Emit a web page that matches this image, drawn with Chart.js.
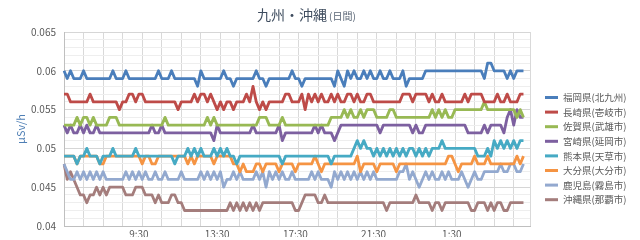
<!DOCTYPE html>
<html>
<head>
<meta charset="utf-8">
<script src="https://cdn.jsdelivr.net/npm/chart.js@4.4.1/dist/chart.umd.min.js"></script>
<style>
  html, body { margin: 0; padding: 0; background: #fff; }
</style>
</head>
<body>
<canvas id="chart" width="640" height="240"></canvas>
<script>
const FONT = "'Noto Sans CJK JP', 'Noto Sans', sans-serif";

const chartTitle = '九州・沖縄';
const chartSubtitle = '(日間)';
const yTitle = 'μSv/h';
const tickLabels = ['9:30', '13:30', '17:30', '21:30', '1:30'];
const stations = ['福岡県(北九州)', '長崎県(壱岐市)', '佐賀県(武雄市)', '宮崎県(延岡市)',
                  '熊本県(天草市)', '大分県(大分市)', '鹿児島(霧島市)', '沖縄県(那覇市)'];

// 10 minute readings, starting 5:40
const fukuoka = [0.060,0.059,0.060,0.059,0.059,0.059,0.060,0.059,0.059,0.059,
  0.059,0.059,0.059,0.059,0.059,0.060,0.059,0.059,0.059,0.060,
  0.059,0.059,0.059,0.059,0.059,0.059,0.059,0.059,0.059,0.060,
  0.059,0.059,0.059,0.060,0.059,0.059,0.059,0.059,0.059,0.059,
  0.059,0.058,0.060,0.059,0.059,0.059,0.059,0.059,0.059,0.060,
  0.059,0.059,0.058,0.059,0.059,0.059,0.059,0.059,0.059,0.060,
  0.059,0.059,0.058,0.059,0.059,0.059,0.059,0.059,0.059,0.059,
  0.060,0.059,0.059,0.058,0.059,0.059,0.059,0.059,0.059,0.059,
  0.059,0.059,0.059,0.058,0.060,0.059,0.058,0.060,0.059,0.060,
  0.059,0.059,0.060,0.059,0.060,0.059,0.059,0.060,0.059,0.059,
  0.060,0.059,0.059,0.059,0.060,0.058,0.059,0.059,0.059,0.059,
  0.059,0.060,0.060,0.060,0.060,0.060,0.060,0.060,0.060,0.060,
  0.060,0.060,0.060,0.060,0.060,0.060,0.060,0.060,0.060,0.059,
  0.061,0.061,0.060,0.060,0.060,0.060,0.059,0.060,0.059,0.060,
  0.060,0.060];
const nagasaki = [0.057,0.057,0.056,0.056,0.056,0.056,0.056,0.056,0.057,0.056,
  0.056,0.056,0.056,0.056,0.056,0.056,0.056,0.055,0.056,0.056,
  0.057,0.057,0.056,0.057,0.057,0.056,0.056,0.056,0.056,0.056,
  0.056,0.056,0.056,0.056,0.056,0.055,0.056,0.056,0.056,0.056,
  0.057,0.056,0.057,0.057,0.056,0.057,0.056,0.055,0.056,0.055,
  0.056,0.056,0.055,0.056,0.056,0.056,0.057,0.056,0.058,0.056,
  0.055,0.056,0.055,0.056,0.056,0.056,0.056,0.056,0.057,0.057,
  0.056,0.056,0.056,0.057,0.055,0.057,0.056,0.057,0.056,0.057,
  0.056,0.056,0.057,0.056,0.057,0.056,0.056,0.057,0.057,0.056,
  0.057,0.056,0.056,0.057,0.057,0.056,0.056,0.056,0.056,0.056,
  0.056,0.056,0.056,0.056,0.057,0.057,0.057,0.056,0.057,0.057,
  0.057,0.057,0.056,0.057,0.056,0.056,0.057,0.056,0.056,0.056,
  0.056,0.056,0.056,0.057,0.056,0.057,0.057,0.057,0.057,0.056,
  0.056,0.056,0.056,0.057,0.056,0.056,0.057,0.056,0.056,0.056,
  0.057,0.057];
const saga = [0.053,0.053,0.053,0.053,0.054,0.053,0.054,0.054,0.053,0.054,
  0.053,0.053,0.053,0.053,0.054,0.054,0.054,0.053,0.053,0.053,
  0.053,0.053,0.053,0.053,0.053,0.053,0.053,0.053,0.053,0.053,
  0.053,0.054,0.053,0.053,0.053,0.053,0.053,0.053,0.053,0.053,
  0.053,0.053,0.053,0.053,0.054,0.053,0.054,0.053,0.053,0.053,
  0.053,0.053,0.053,0.053,0.053,0.053,0.053,0.053,0.053,0.053,
  0.054,0.054,0.054,0.053,0.053,0.053,0.053,0.054,0.053,0.053,
  0.053,0.053,0.053,0.053,0.053,0.053,0.053,0.053,0.053,0.053,
  0.053,0.053,0.054,0.054,0.054,0.054,0.055,0.054,0.055,0.054,
  0.054,0.055,0.054,0.055,0.055,0.055,0.054,0.054,0.054,0.054,
  0.055,0.055,0.054,0.054,0.054,0.054,0.054,0.054,0.054,0.054,
  0.054,0.054,0.054,0.055,0.054,0.055,0.054,0.055,0.054,0.054,
  0.055,0.055,0.055,0.055,0.055,0.055,0.055,0.055,0.055,0.056,
  0.055,0.055,0.055,0.055,0.055,0.055,0.055,0.055,0.055,0.054,
  0.055,0.054];
const miyazaki = [0.053,0.052,0.053,0.052,0.052,0.053,0.052,0.053,0.052,0.052,
  0.053,0.052,0.052,0.052,0.052,0.052,0.052,0.052,0.052,0.052,
  0.052,0.052,0.052,0.052,0.052,0.052,0.052,0.053,0.052,0.052,
  0.053,0.052,0.052,0.052,0.052,0.052,0.052,0.052,0.052,0.052,
  0.052,0.052,0.052,0.052,0.052,0.052,0.051,0.053,0.052,0.052,
  0.052,0.052,0.052,0.052,0.052,0.052,0.052,0.052,0.053,0.052,
  0.052,0.052,0.052,0.052,0.052,0.052,0.053,0.051,0.052,0.052,
  0.052,0.052,0.052,0.052,0.052,0.052,0.052,0.053,0.052,0.053,
  0.052,0.052,0.052,0.051,0.052,0.053,0.053,0.053,0.053,0.053,
  0.053,0.053,0.053,0.053,0.053,0.053,0.053,0.052,0.053,0.053,
  0.053,0.053,0.053,0.053,0.053,0.053,0.053,0.052,0.053,0.052,
  0.052,0.053,0.053,0.053,0.053,0.053,0.053,0.053,0.053,0.053,
  0.053,0.053,0.053,0.053,0.052,0.052,0.052,0.052,0.052,0.053,
  0.052,0.053,0.053,0.053,0.053,0.052,0.054,0.055,0.053,0.055,
  0.054,0.054];
const kumamoto = [0.049,0.049,0.049,0.049,0.048,0.049,0.049,0.050,0.049,0.049,
  0.049,0.048,0.049,0.049,0.049,0.050,0.049,0.049,0.049,0.049,
  0.049,0.049,0.050,0.049,0.049,0.049,0.049,0.049,0.049,0.049,
  0.049,0.049,0.049,0.049,0.048,0.049,0.049,0.049,0.050,0.049,
  0.050,0.049,0.050,0.049,0.049,0.049,0.050,0.049,0.050,0.049,
  0.050,0.049,0.049,0.048,0.049,0.049,0.049,0.049,0.049,0.049,
  0.049,0.049,0.049,0.049,0.049,0.049,0.049,0.048,0.049,0.049,
  0.049,0.049,0.049,0.049,0.049,0.049,0.049,0.049,0.049,0.049,
  0.049,0.049,0.048,0.049,0.049,0.049,0.049,0.049,0.049,0.050,
  0.051,0.050,0.051,0.050,0.050,0.049,0.050,0.049,0.050,0.049,
  0.050,0.049,0.050,0.049,0.050,0.049,0.050,0.050,0.049,0.050,
  0.049,0.050,0.049,0.050,0.050,0.050,0.051,0.050,0.050,0.050,
  0.050,0.050,0.050,0.050,0.050,0.050,0.050,0.049,0.049,0.049,
  0.050,0.049,0.051,0.050,0.051,0.050,0.051,0.050,0.051,0.050,
  0.051,0.051];
const oita = [0.049,0.049,0.049,0.049,0.048,0.049,0.049,0.049,0.049,0.049,
  0.049,0.048,0.048,0.049,0.049,0.049,0.049,0.049,0.049,0.049,
  0.049,0.049,0.049,0.049,0.048,0.049,0.049,0.048,0.048,0.049,
  0.049,0.049,0.049,0.049,0.049,0.049,0.049,0.049,0.048,0.049,
  0.048,0.049,0.049,0.049,0.049,0.049,0.048,0.049,0.049,0.049,
  0.049,0.049,0.048,0.048,0.047,0.048,0.047,0.047,0.047,0.048,
  0.048,0.047,0.048,0.048,0.048,0.048,0.047,0.048,0.048,0.048,
  0.048,0.047,0.048,0.048,0.048,0.048,0.048,0.049,0.048,0.047,
  0.048,0.048,0.048,0.048,0.048,0.048,0.048,0.048,0.048,0.048,
  0.049,0.047,0.048,0.048,0.048,0.048,0.047,0.048,0.048,0.048,
  0.048,0.048,0.047,0.048,0.048,0.048,0.048,0.048,0.048,0.048,
  0.048,0.048,0.048,0.048,0.048,0.048,0.048,0.048,0.049,0.049,
  0.048,0.047,0.048,0.048,0.048,0.048,0.049,0.048,0.048,0.048,
  0.049,0.048,0.048,0.048,0.048,0.048,0.048,0.048,0.048,0.049,
  0.048,0.049];
const kagoshima = [0.048,0.047,0.046,0.046,0.047,0.046,0.047,0.046,0.047,0.046,
  0.047,0.046,0.047,0.046,0.046,0.046,0.046,0.046,0.046,0.047,
  0.046,0.047,0.046,0.047,0.046,0.047,0.046,0.046,0.047,0.046,
  0.046,0.047,0.046,0.046,0.046,0.046,0.047,0.046,0.046,0.046,
  0.046,0.046,0.047,0.046,0.047,0.046,0.047,0.046,0.047,0.045,
  0.046,0.046,0.047,0.046,0.047,0.046,0.046,0.046,0.046,0.047,
  0.046,0.047,0.045,0.047,0.046,0.047,0.046,0.047,0.046,0.046,
  0.047,0.046,0.046,0.046,0.046,0.046,0.047,0.046,0.047,0.046,
  0.046,0.046,0.045,0.047,0.046,0.047,0.046,0.047,0.046,0.047,
  0.046,0.047,0.046,0.047,0.046,0.047,0.046,0.046,0.046,0.046,
  0.046,0.046,0.046,0.047,0.047,0.048,0.046,0.047,0.046,0.045,
  0.046,0.047,0.046,0.047,0.046,0.046,0.047,0.046,0.047,0.046,
  0.046,0.046,0.047,0.046,0.045,0.046,0.047,0.046,0.046,0.047,
  0.047,0.047,0.047,0.047,0.048,0.047,0.047,0.048,0.048,0.047,
  0.047,0.048];
const okinawa = [0.048,0.046,0.047,0.046,0.045,0.044,0.044,0.043,0.044,0.044,
  0.045,0.044,0.045,0.044,0.045,0.045,0.045,0.045,0.045,0.044,
  0.044,0.044,0.045,0.045,0.045,0.044,0.044,0.044,0.043,0.044,
  0.043,0.043,0.043,0.044,0.044,0.043,0.043,0.042,0.042,0.042,
  0.042,0.042,0.042,0.042,0.042,0.042,0.042,0.042,0.042,0.042,
  0.042,0.043,0.042,0.043,0.042,0.043,0.042,0.043,0.042,0.043,
  0.042,0.043,0.043,0.043,0.043,0.043,0.043,0.043,0.043,0.043,
  0.043,0.042,0.042,0.043,0.044,0.044,0.044,0.044,0.043,0.043,
  0.044,0.043,0.043,0.043,0.043,0.043,0.043,0.043,0.043,0.043,
  0.043,0.043,0.043,0.043,0.043,0.043,0.043,0.043,0.043,0.042,
  0.043,0.043,0.043,0.043,0.043,0.043,0.043,0.043,0.044,0.043,
  0.043,0.043,0.043,0.042,0.043,0.043,0.042,0.043,0.043,0.043,
  0.043,0.043,0.043,0.043,0.043,0.042,0.042,0.043,0.043,0.043,
  0.042,0.043,0.042,0.043,0.043,0.042,0.042,0.043,0.043,0.043,
  0.043,0.043];

const series = [fukuoka, nagasaki, saga, miyazaki, kumamoto, oita, kagoshima, okinawa];
const colors = ['#4a7ebb', '#be4b48', '#98b954', '#7d60a0', '#46aac4', '#f59443', '#93a9cf', '#a47d7c'];

// one category per 10 minutes over the day, first one at 5:40
const times = [];
for (let i = 0; i < 144; i++) {
  const m = (5 * 60 + 40 + i * 10) % 1440;
  times.push(Math.floor(m / 60) + ':' + String(m % 60).padStart(2, '0'));
}

const isMajor = v => Math.round(v * 1000) % 5 === 0;

// title with a smaller "(日間)" after it
const titlePlugin = {
  id: 'titleText',
  afterDraw(chart) {
    const ctx = chart.ctx;
    ctx.save();
    ctx.fillStyle = '#3e4c5e';
    ctx.font = '14px ' + FONT;
    ctx.fillText(chartTitle, 257, 20);
    const w = ctx.measureText(chartTitle).width;
    ctx.fillStyle = '#5a6676';
    ctx.font = '10px ' + FONT;
    ctx.fillText(chartSubtitle, 257 + w + 2, 20);
    ctx.restore();
  }
};

// legend on the right, Excel style short bars
const sideLegend = {
  id: 'sideLegend',
  afterDraw(chart) {
    const ctx = chart.ctx;
    ctx.save();
    ctx.font = '9.5px ' + FONT;
    ctx.textBaseline = 'middle';
    chart.data.datasets.forEach((ds, i) => {
      const y = 97.5 + i * 14.6;
      ctx.fillStyle = ds.borderColor;
      ctx.fillRect(545, y - 1.5, 13, 3);
      ctx.fillStyle = '#595959';
      ctx.fillText(ds.label, 563, y);
    });
    ctx.restore();
  }
};

new Chart(document.getElementById('chart'), {
  type: 'line',
  data: {
    labels: times,
    datasets: series.map((vals, i) => ({
      label: stations[i],
      data: vals,
      borderColor: colors[i],
      backgroundColor: colors[i],
      borderWidth: 2.8,
      pointRadius: 0,
      tension: 0,
      borderJoinStyle: 'round'
    }))
  },
  options: {
    responsive: false,
    animation: false,
    devicePixelRatio: 1,
    layout: { padding: { top: 32, right: 110, bottom: 0, left: 0 } },
    plugins: { legend: { display: false }, title: { display: false }, tooltip: { enabled: false } },
    scales: {
      x: {
        afterFit: s => { s.height = 11; },
        grid: {
          drawTicks: false,
          color: c => (c.index % 6 === 0 || c.index === times.length - 1) ? '#d9d9d9' : 'rgba(0,0,0,0)'
        },
        border: { color: '#bfbfbf' },
        ticks: {
          autoSkip: false,
          maxRotation: 0,
          padding: 2,
          color: '#595959',
          font: { family: FONT, size: 10 },
          callback: (v, i) => tickLabels.includes(times[i]) ? times[i] : ''
        }
      },
      y: {
        min: 0.04,
        max: 0.065,
        afterFit: s => { s.width = 64; },
        grid: {
          drawTicks: false,
          color: c => (c.tick && isMajor(c.tick.value)) ? '#d6d6d6' : '#eeeeee'
        },
        border: { color: '#bfbfbf' },
        title: {
          display: true,
          text: yTitle,
          color: '#4f7fb5',
          font: { family: FONT, size: 11 },
          padding: { top: 14, bottom: 0 }
        },
        ticks: {
          stepSize: 0.001,
          autoSkip: false,
          maxTicksLimit: 100,
          padding: 8,
          color: '#595959',
          font: { family: FONT, size: 10 },
          callback: v => isMajor(v) ? String(Math.round(v * 1000) / 1000) : ''
        }
      }
    }
  },
  plugins: [titlePlugin, sideLegend]
});
</script>
</body>
</html>
